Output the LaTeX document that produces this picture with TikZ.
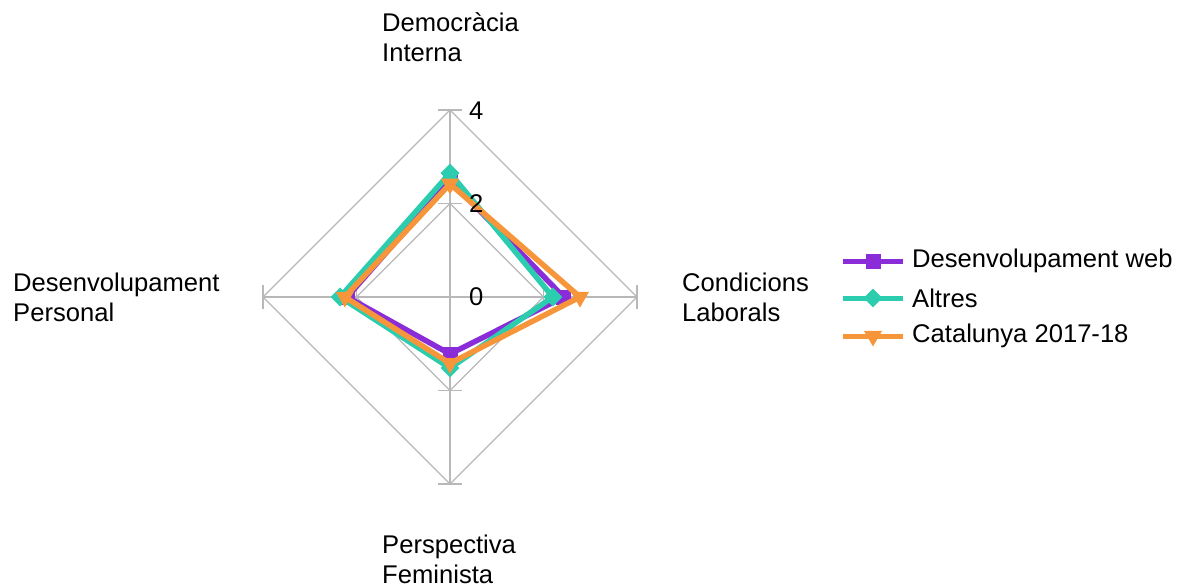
\documentclass[tikz,border=0pt]{standalone}
\usepackage{fontspec}
\setmainfont{Liberation Sans}
\usetikzlibrary{shapes.geometric,calc}

\definecolor{webcol}{HTML}{8A2DD8}
\definecolor{altcol}{HTML}{2CCDAF}
\definecolor{catcol}{HTML}{F7953B}
\definecolor{gridcol}{HTML}{B8B8B8}

\tikzset{
  grid/.style={draw=gridcol,line width=1.3pt},
  serie/.style={line width=5.5pt,line join=miter},
  sqmark/.style={rectangle,fill=#1,inner sep=0pt,minimum size=15pt},
  dmmark/.style={diamond,fill=#1,inner sep=0pt,minimum size=19pt},
  trmark/.style={regular polygon,regular polygon sides=3,shape border rotate=180,fill=#1,inner sep=0pt,minimum size=21pt},
  lbl/.style={anchor=west,align=left,inner sep=0pt,font=\fontsize{25.6}{30}\selectfont},
}

\begin{document}
\begin{tikzpicture}[x=1pt,y=-1pt]
\useasboundingbox (0,0) rectangle (1183,587);

\def\u{46.75}

\coordinate (O) at (450,297);
\coordinate (T) at (450,{297-4*\u});
\coordinate (R) at ({450+4*\u},297);
\coordinate (B) at (450,{297+4*\u});
\coordinate (L) at ({450-4*\u},297);
\coordinate (T2) at (450,{297-2*\u});
\coordinate (R2) at ({450+2*\u},297);
\coordinate (B2) at (450,{297+2*\u});
\coordinate (L2) at ({450-2*\u},297);

% grid
\draw[grid] (T) -- (R) -- (B) -- (L) -- cycle;
\draw[grid] (T2) -- (R2) -- (B2) -- (L2) -- cycle;
\draw[grid] (T) -- (B);
\draw[grid] (L) -- (R);
\foreach \p in {T,T2,O,B2,B}
  \draw[grid] ($(\p)+(-12,0)$) -- ($(\p)+(12,0)$);
\foreach \p in {L,L2,R2,R}
  \draw[grid] ($(\p)+(0,-12)$) -- ($(\p)+(0,12)$);

% series
\coordinate (w1) at (450,{297-2.50*\u});
\coordinate (w2) at ({450+2.43*\u},297);
\coordinate (w3) at (450,{297+1.22*\u});
\coordinate (w4) at ({450-2.20*\u},297);

\coordinate (a1) at (450,{297-2.65*\u});
\coordinate (a2) at ({450+2.20*\u},297);
\coordinate (a3) at (450,{297+1.52*\u});
\coordinate (a4) at ({450-2.35*\u},297);

\coordinate (c1) at (450,{297-2.42*\u});
\coordinate (c2) at ({450+2.78*\u},297);
\coordinate (c3) at (450,{297+1.42*\u});
\coordinate (c4) at ({450-2.25*\u},297);

\draw[serie,webcol] (w1) -- (w2) -- (w3) -- (w4) -- cycle;
\foreach \p in {w1,w2,w3,w4}
  \node[sqmark=webcol] at (\p) {};

\draw[serie,altcol] (a1) -- (a2) -- (a3) -- (a4) -- cycle;
\foreach \p in {a1,a2,a3,a4}
  \node[dmmark=altcol] at (\p) {};

\draw[serie,catcol] (c1) -- (c2) -- (c3) -- (c4) -- cycle;
\foreach \p in {c1,c2,c3,c4}
  \node[trmark=catcol] at (\p) {};

% scale numbers
\node[lbl] (n4) at (469,111) {4};
\node[lbl] (n2) at (469,204) {2};
\node[lbl] (n0) at (469,297) {0};

% axis labels
\node[lbl] (dem) at (382,37) {Democràcia\\Interna};
\node[lbl] (con) at (682,297) {Condicions\\Laborals};
\node[lbl] (des) at (13,297) {Desenvolupament\\Personal};
\node[lbl] (per) at (382,559) {Perspectiva\\Feminista};

% legend
\coordinate (k1a) at (843,261);
\coordinate (k1b) at (903,261);
\coordinate (k2a) at (843,298);
\coordinate (k2b) at (903,298);
\coordinate (k3a) at (843,336);
\coordinate (k3b) at (903,336);
\draw[webcol,line width=5pt] (k1a) -- (k1b);
\node[sqmark=webcol] at ($(k1a)!0.5!(k1b)$) {};
\draw[altcol,line width=5pt] (k2a) -- (k2b);
\node[dmmark=altcol] at ($(k2a)!0.5!(k2b)$) {};
\draw[catcol,line width=5pt] (k3a) -- (k3b);
\node[trmark=catcol] at ($(k3a)!0.5!(k3b)$) {};
\node[lbl] (l1) at (912,261) {Desenvolupament web};
\node[lbl] (l2) at (912,298) {Altres};
\node[lbl] (l3) at (912,336) {Catalunya 2017-18};

\end{tikzpicture}
\end{document}
